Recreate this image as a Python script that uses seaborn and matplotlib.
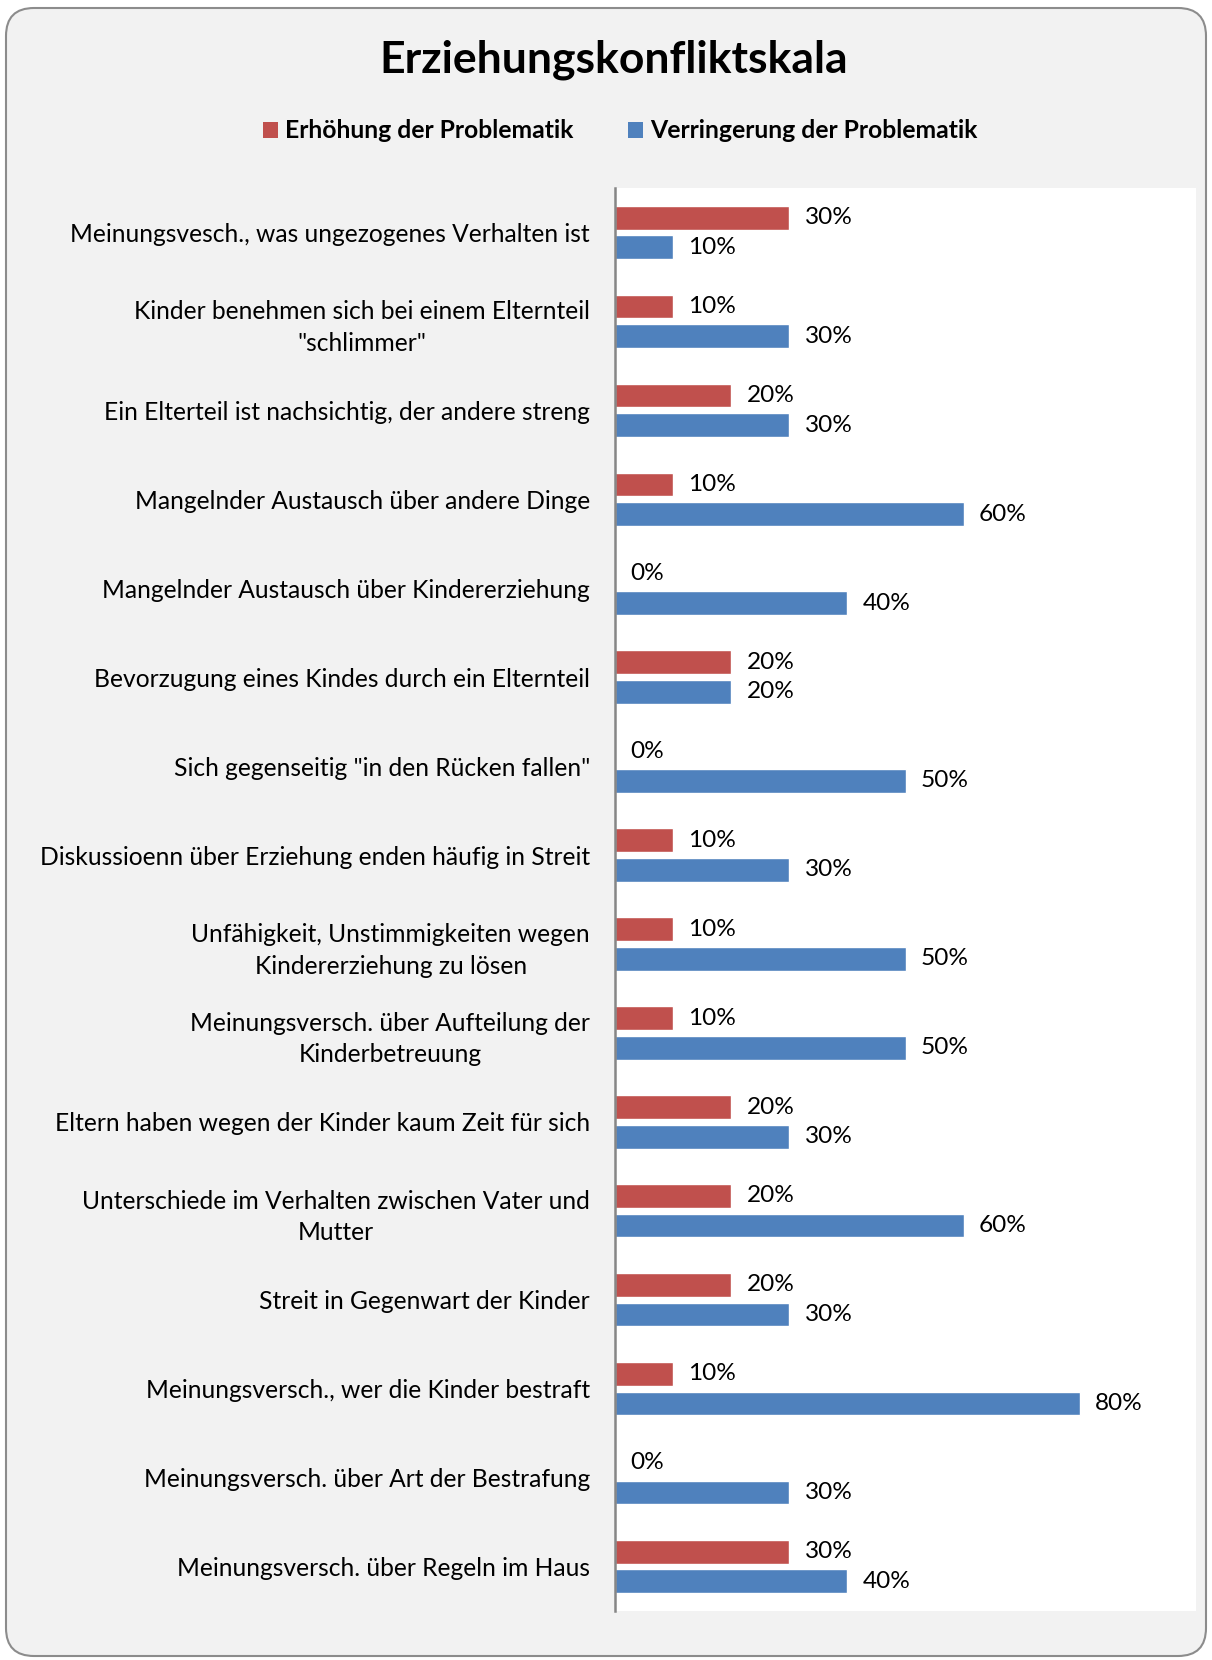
import numpy as np
import pandas as pd
import seaborn as sns
import matplotlib.pyplot as plt
from matplotlib.patches import FancyBboxPatch, Patch

categories = [
    "Meinungsvesch., was ungezogenes Verhalten ist",
    "Kinder benehmen sich bei einem Elternteil\n\"schlimmer\"",
    "Ein Elterteil ist nachsichtig, der andere streng",
    "Mangelnder Austausch über andere Dinge",
    "Mangelnder Austausch über Kindererziehung",
    "Bevorzugung eines Kindes durch ein Elternteil",
    "Sich gegenseitig \"in den Rücken fallen\"",
    "Diskussioenn über Erziehung enden häufig in Streit",
    "Unfähigkeit, Unstimmigkeiten wegen\nKindererziehung zu lösen",
    "Meinungsversch. über Aufteilung der\nKinderbetreuung",
    "Eltern haben wegen der Kinder kaum Zeit für sich",
    "Unterschiede im Verhalten zwischen Vater und\nMutter",
    "Streit in Gegenwart der Kinder",
    "Meinungsversch., wer die Kinder bestraft",
    "Meinungsversch. über Art der Bestrafung",
    "Meinungsversch. über Regeln im Haus",
]
erhoehung = [30, 10, 20, 10, 0, 20, 0, 10, 10, 10, 20, 20, 20, 10, 0, 30]
verringerung = [10, 30, 30, 60, 40, 20, 50, 30, 50, 50, 30, 60, 30, 80, 30, 40]
series_names = ["Erhöhung der Problematik", "Verringerung der Problematik"]
colors = ["#C0504D", "#4F81BD"]
title = "Erziehungskonfliktskala"

df = pd.DataFrame({
    "Kategorie": categories * 2,
    "Wert": erhoehung + verringerung,
    "Serie": [series_names[0]] * len(categories) + [series_names[1]] * len(categories),
})

sns.set_theme(style="white")
plt.rcParams['font.family'] = ['Lato', 'DejaVu Sans']

W, H = 1212, 1660
fig = plt.figure(figsize=(W / 100, H / 100), dpi=100, facecolor="white")
frame = FancyBboxPatch((6, 4), 1200, 1648, boxstyle="round,pad=0,rounding_size=28",
                       transform=None, facecolor="#F2F2F2", edgecolor="#8C8C8C",
                       linewidth=1.5, zorder=-5)
fig.patches.append(frame)

ax = fig.add_axes([615 / W, 1 - 1611 / H, (1196 - 615) / W, (1611 - 188) / H])
ax.set_zorder(1)
ax.set_facecolor("white")
sns.barplot(data=df, y="Kategorie", x="Wert", hue="Serie", palette=colors,
            orient="h", width=0.667, gap=0.2, saturation=1, legend=False, ax=ax)

ax.set_xlim(0, 100)
ax.set_ylim(len(categories) - 0.5, -0.5)
ax.set_xticks([])
ax.set_xlabel("")
ax.set_ylabel("")
for s in ["top", "right", "bottom"]:
    ax.spines[s].set_visible(False)
ax.spines["left"].set_color("#868686")
ax.spines["left"].set_linewidth(1.8)
ax.tick_params(axis="y", length=0, pad=18, labelsize=17.7, labelcolor="black")
for lbl in ax.get_yticklabels():
    lbl.set_multialignment("center")
    lbl.set_linespacing(1.45)

for cont in ax.containers:
    ax.bar_label(cont, labels=[f"{v:.0f}%" for v in cont.datavalues],
                 padding=11, fontsize=17.6, color="black")

fig.text(614 / W, 1 - 60 / H, title, ha="center", va="center",
         fontsize=32, fontweight="bold", color="black")

handles = [Patch(facecolor=c, edgecolor="none") for c in colors]
leg = fig.legend(handles, series_names, loc="center", bbox_to_anchor=(620 / W, 1 - 131 / H),
                 ncol=2, frameon=False, handlelength=0.6, handleheight=0.6,
                 handletextpad=0.3, columnspacing=2.2,
                 prop={"weight": "bold", "size": 17.8})
for t in leg.get_texts():
    t.set_color("black")

fig.savefig("out.png", dpi=100, facecolor="white")
